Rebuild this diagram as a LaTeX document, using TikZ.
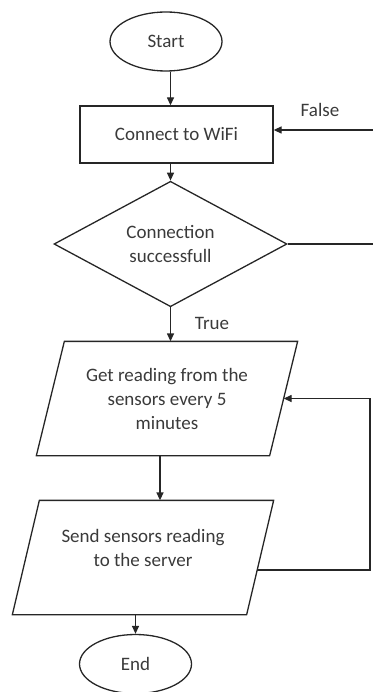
\documentclass[tikz,border=0pt]{standalone}
\usepackage{fontspec}
\setmainfont{Carlito}
\usetikzlibrary{shapes.geometric,arrows.meta,calc}
\definecolor{lc}{HTML}{262626}
\definecolor{tc}{HTML}{3A3A3A}
\begin{document}
\begin{tikzpicture}[x=1pt,y=-1pt,
  color=lc, line width=1.3pt,
  every node/.style={font=\fontsize{19}{24}\selectfont, text=tc},
  term/.style={ellipse,draw,minimum width=112pt,minimum height=59pt,inner sep=0pt},
  proc/.style={rectangle,draw,minimum width=193pt,minimum height=57pt},
  dec/.style={diamond,draw,minimum width=233pt,minimum height=118pt,inner sep=0pt,align=center},
  iobody/.style={rectangle,minimum height=113pt,inner sep=0pt,align=center},
  txt/.style={align=center},
  arr/.style={-{Triangle[length=8pt,width=7pt]}}
]
\useasboundingbox (0,0) rectangle (372,692);
\node[term] (start) at (166,41.5) {Start};
\node[proc] (cw) at (176.5,134.5) {Connect to WiFi};
\node[dec] (dia) at (170.5,244) {Connection\\successfull};
\node[iobody,minimum width=232pt] (p1) at (167,398.5) {Get reading from the\\sensors every 5\\minutes};
\draw ([xshift=14pt]p1.north west) -- ([xshift=14pt]p1.north east)
  -- ([xshift=-14pt]p1.south east) -- ([xshift=-14pt]p1.south west) -- cycle;
\node[iobody,minimum width=233pt] (p2) at (143,557.5) {};
\draw ([xshift=13.5pt]p2.north west) -- ([xshift=13.5pt]p2.north east)
  -- ([xshift=-13.5pt]p2.south east) -- ([xshift=-13.5pt]p2.south west) -- cycle;
\node[txt] (p2t) at (143,548) {Send sensors reading\\to the server};
\node[term] (end) at (135.5,664) {End};
\node (tl) at (212,323) {True};
\node (fl) at (320,110) {False};
\coordinate (fa) at (375,243);
\coordinate (lp) at (370,570);
\coordinate (p2r) at ($([xshift=13.5pt]p2.north east)!0.61!([xshift=-13.5pt]p2.south east)$);
\draw[arr] (dia.north |- start.south) -- (dia.north |- cw.north);
\draw[arr] (dia.north |- cw.south) -- (dia.north);
\draw[arr] (dia.south) -- (dia.south |- p1.north);
\draw[arr] ([xshift=-7pt]p1.south) -- ([xshift=-7pt]p1.south |- p2.north);
\draw[arr] (end.north |- p2.south) -- (end.north);
\draw[arr] (dia.east) -- (dia.east -| fa) |- ([yshift=4.5pt]cw.east);
\draw[arr] (p2r) -- (p2r -| lp) |- (p1.east);
\end{tikzpicture}
\end{document}
